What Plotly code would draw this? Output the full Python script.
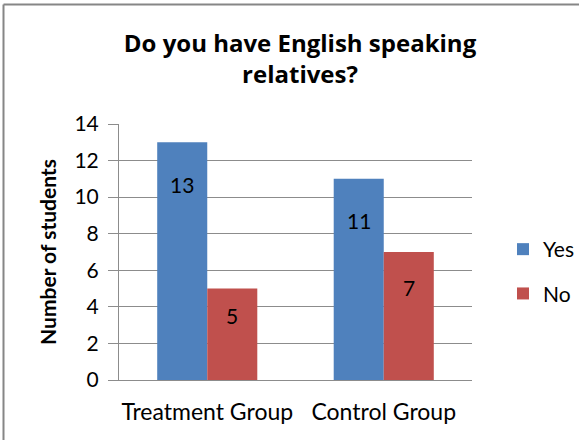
import plotly.graph_objects as go

# Survey answers by group
groups = ["Treatment Group", "Control Group"]
series_names = ["Yes", "No"]
yes_counts = [13, 11]
no_counts = [5, 7]
y_ticks = [0, 2, 4, 6, 8, 10, 12, 14]

colors = {"Yes": "#4F81BD", "No": "#C0504D"}
font_family = "Lato, 'Open Sans', sans-serif"
title_family = "'Open Sans', Lato, sans-serif"
grid_color = "#8C8C8C"

fig = go.Figure()
for name, vals in zip(series_names, [yes_counts, no_counts]):
    fig.add_trace(go.Bar(
        name=name, x=groups, y=vals,
        marker=dict(color=colors[name], line=dict(width=0)),
        legendgroup=name,
    ))

# value labels sitting inside each bar, just below its top
label_shift = {"Yes": [-42, -42], "No": [-27, -35]}
for i, (name, vals) in enumerate(zip(series_names, [yes_counts, no_counts])):
    for j, (g, v) in enumerate(zip(groups, vals)):
        fig.add_annotation(
            x=g, y=v, text=str(v), showarrow=False,
            xshift=(-25 if i == 0 else 25), yshift=label_shift[name][j],
            font=dict(family=font_family, size=21, color="#000000"),
        )

L, R, T, B = 119, 107, 124, 60
W, H = 579, 440
plot_w, plot_h = W - L - R, H - T - B

def px_x(px):
    return (px - L) / plot_w

def px_y(py):
    return (H - B - py) / plot_h

# outer chart frame (left and top edges)
fig.add_shape(type="line", xref="paper", yref="paper",
              x0=px_x(3.5), x1=px_x(W + 5), y0=px_y(4.5), y1=px_y(4.5),
              line=dict(color="#868686", width=2))
fig.add_shape(type="line", xref="paper", yref="paper",
              x0=px_x(3.5), x1=px_x(3.5), y0=px_y(4.5), y1=px_y(H + 5),
              line=dict(color="#868686", width=2))

fig.update_layout(
    width=W, height=H,
    margin=dict(l=L, r=R, t=T, b=B, pad=0),
    paper_bgcolor="white", plot_bgcolor="white",
    barmode="group", bargap=0.433, bargroupgap=0,
    title=dict(
        text="<b>Do you have English speaking<br>relatives?</b>",
        x=px_x(300), xref="paper", xanchor="center",
        y=1 - 52 / H, yref="container", yanchor="top",
        font=dict(family=title_family, size=24, color="#000000"),
    ),
    legend=dict(
        xref="container", yref="container",
        x=503 / W, y=1 - 229 / H, xanchor="left", yanchor="top",
        font=dict(family=font_family, size=21, color="#000000"),
        traceorder="grouped", tracegroupgap=14,
        bgcolor="rgba(0,0,0,0)",
    ),
    xaxis=dict(
        showline=True, linecolor=grid_color, linewidth=1,
        ticks="", showgrid=False,
        tickfont=dict(family=font_family, size=23, color="#000000"),
        ticklabelstandoff=11,
    ),
    yaxis=dict(
        range=[0, 14], tickvals=y_ticks,
        showline=True, linecolor=grid_color, linewidth=1,
        showgrid=True, gridcolor=grid_color, gridwidth=1,
        ticks="outside", ticklen=10, tickcolor=grid_color,
        ticklabelstandoff=5,
        tickfont=dict(family=font_family, size=21, color="#000000"),
        title=dict(text="<b>Number of students</b>", standoff=12,
                   font=dict(family=font_family, size=21, color="#000000")),
        zeroline=False,
    ),
)

fig.write_html("out.html")
